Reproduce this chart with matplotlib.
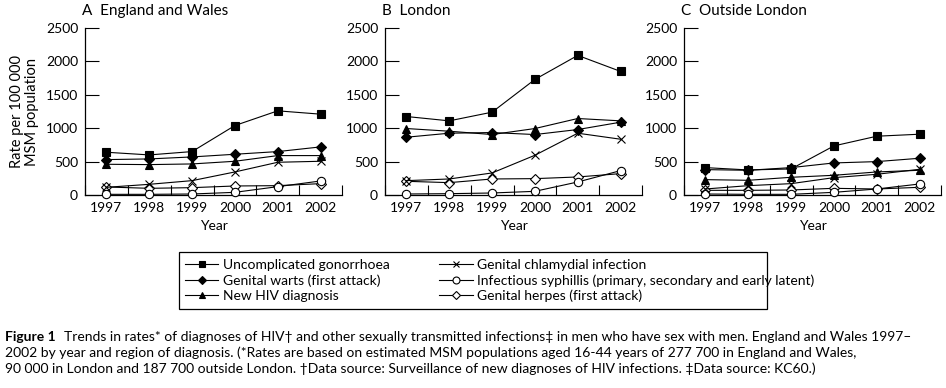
import matplotlib

matplotlib.use("Agg")

import matplotlib.pyplot as plt
import numpy as np
from matplotlib.lines import Line2D
from matplotlib.patches import Rectangle

years = ["1997", "1998", "1999", "2000", "2001", "2002"]

series_names = [
    "Uncomplicated gonorrhoea",
    "Genital warts (first attack)",
    "New HIV diagnosis",
    "Genital chlamydial infection",
    "Infectious syphillis (primary, secondary and early latent)",
    "Genital herpes (first attack)",
]

# England and Wales
ew_gonorrhoea = [640, 600, 650, 1040, 1260, 1210]
ew_warts = [530, 540, 570, 610, 650, 720]
ew_hiv = [460, 455, 465, 505, 590, 590]
ew_chlamydia = [115, 160, 215, 345, 490, 505]
ew_syphilis = [10, 10, 15, 40, 125, 210]
ew_herpes = [120, 100, 110, 135, 140, 170]

# London
ld_gonorrhoea = [1175, 1110, 1240, 1730, 2090, 1850]
ld_warts = [865, 925, 935, 905, 980, 1090]
ld_hiv = [995, 955, 905, 995, 1145, 1110]
ld_chlamydia = [215, 240, 330, 595, 925, 835]
ld_syphilis = [15, 20, 30, 55, 195, 365]
ld_herpes = [205, 185, 240, 245, 270, 320]

# Outside London
ol_gonorrhoea = [410, 375, 390, 735, 880, 910]
ol_warts = [380, 370, 410, 480, 500, 550]
ol_hiv = [230, 220, 265, 295, 345, 370]
ol_chlamydia = [90, 140, 170, 260, 310, 385]
ol_syphilis = [15, 10, 10, 40, 90, 165]
ol_herpes = [70, 70, 75, 100, 90, 115]

panel_titles = ["A  England and Wales", "B  London", "C  Outside London"]

W, H = 946, 388
FONT = "Lato"

marker_styles = [
    dict(marker="s", mfc="black"),
    dict(marker="D", mfc="black", ms=5),
    dict(marker="^", mfc="black"),
    dict(marker="x", mfc="none"),
    dict(marker="o", mfc="white"),
    dict(marker="D", mfc="white", ms=5),
]


def draw_panel(ax, data, title, show_ylabel):
    x = np.arange(len(years))
    # open markers first so the filled ones sit on top
    for idx in [5, 4, 3, 2, 1, 0]:
        style = dict(ms=6)
        style.update(marker_styles[idx])
        ax.plot(x, data[idx], color="black", lw=0.8, mec="black", mew=0.8,
                zorder=3 + (5 - idx) * 0.1, clip_on=False, **style)

    ax.set_xlim(-0.5, 5.5)
    ax.set_ylim(0, 2500)
    ax.set_yticks(range(0, 2501, 500))
    ax.set_xticks(x)
    ax.set_xticklabels(years)
    ax.set_xticks(np.arange(-0.5, 6, 1), minor=True)
    ax.tick_params(axis="y", direction="in", length=10, width=0.8, labelsize=10, pad=5)
    ax.tick_params(axis="x", which="major", length=0, labelsize=10, pad=5)
    ax.tick_params(axis="x", which="minor", direction="in", length=7, width=0.8)
    for side in ["top", "right"]:
        ax.spines[side].set_visible(False)
    for side in ["left", "bottom"]:
        ax.spines[side].set_linewidth(0.9)
    ax.set_xlabel("Year", fontsize=10, labelpad=4)
    ax.text(-0.01, 1.06, title, transform=ax.transAxes, fontsize=11,
            ha="left", va="bottom")
    if show_ylabel:
        ax.set_ylabel("Rate per 100 000\nMSM population", fontsize=10.5,
                      labelpad=5, linespacing=1.05)


plt.rcParams["font.family"] = [FONT, "DejaVu Sans"]

fig = plt.figure(figsize=(W / 100, H / 100), dpi=100)

panel_lefts = [85, 385, 684]
panel_data = [
    [ew_gonorrhoea, ew_warts, ew_hiv, ew_chlamydia, ew_syphilis, ew_herpes],
    [ld_gonorrhoea, ld_warts, ld_hiv, ld_chlamydia, ld_syphilis, ld_herpes],
    [ol_gonorrhoea, ol_warts, ol_hiv, ol_chlamydia, ol_syphilis, ol_herpes],
]

for i, left in enumerate(panel_lefts):
    ax = fig.add_axes([left / W, 1 - 195 / H, 257 / W, 167 / H])
    draw_panel(ax, panel_data[i], panel_titles[i], i == 0)

# legend
handles = []
for idx in range(6):
    style = dict(ms=5)
    style.update(marker_styles[idx])
    if style["marker"] == "D":
        style["ms"] = 4.5
    handles.append(Line2D([], [], color="black", lw=0.8, mec="black", mew=0.8, **style))

fig.legend(handles, series_names, ncol=2, loc="upper left",
           bbox_to_anchor=(185 / W, 1 - 259 / H), frameon=False, fontsize=10,
           handlelength=2.4, handletextpad=0.3, labelspacing=0.22,
           columnspacing=3.6, borderaxespad=0, borderpad=0)
fig.add_artist(Rectangle((179 / W, 1 - 309 / H), (767 - 179) / W, (309 - 252) / H,
                         transform=fig.transFigure, fill=False, lw=0.9,
                         edgecolor="black"))

# caption
caption_lines = [
    "Trends in rates* of diagnoses of HIV\u2020 and other sexually transmitted infections\u2021 in men who have sex with men. England and Wales 1997\u2013",
    "2002 by year and region of diagnosis. (*Rates are based on estimated MSM populations aged 16-44 years of 277 700 in England and Wales,",
    "90 000 in London and 187 700 outside London. \u2020Data source: Surveillance of new diagnoses of HIV infections. \u2021Data source: KC60.)",
]
CAP = 10
fig.text(5 / W, 1 - 337 / H, "Figure 1", fontsize=CAP, fontweight="bold",
         va="center", ha="left")
fig.text(64 / W, 1 - 337 / H, caption_lines[0], fontsize=CAP,
         va="center", ha="left")
fig.text(5 / W, 1 - 353 / H, caption_lines[1], fontsize=CAP,
         va="center", ha="left")
fig.text(5 / W, 1 - 369 / H, caption_lines[2], fontsize=CAP,
         va="center", ha="left")

fig.savefig("out.png", dpi=100)
